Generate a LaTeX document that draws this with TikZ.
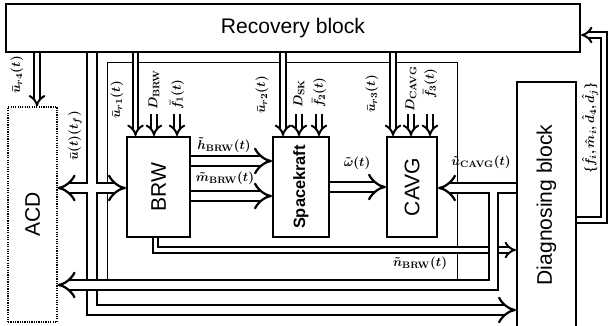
\documentclass[tikz,border=0pt]{standalone}
\usepackage{fontspec}
\setmainfont{Liberation Serif}
\setsansfont{Liberation Sans}
\usetikzlibrary{arrows.meta,calc}
\tikzstyle{block} = [draw, line width=1.8pt, inner sep=0pt, font=\sffamily\fontsize{18}{20}\selectfont]
\tikzstyle{bname} = [rotate=90, inner sep=0pt, font=\sffamily\fontsize{18}{20}\selectfont]
\tikzstyle{bus} = [double, line width=1.9pt, double distance=6pt, >={Implies[scale=1.2]}]
\tikzstyle{tap} = [double, line width=1.7pt, double distance=3pt, >={Implies[scale=1.4]}]
\tikzstyle{lbl} = [inner sep=0pt, font=\fontsize{11}{13}\selectfont\boldmath]
\tikzstyle{vlbl} = [lbl, rotate=90]

\begin{document}
\begin{tikzpicture}[x=0.03cm, y=-0.03cm]
    \useasboundingbox (0,0) rectangle (609,325);
    \draw[line width=0.6pt] (107,62) rectangle (457,280);

    % blocks
    \node[block, minimum width=17.22cm, minimum height=1.44cm] (rec) at (293,28) {Recovery block};
    \node[block, line width=1pt, densely dotted, minimum width=1.47cm, minimum height=6.45cm, label={[bname]center:ACD}] (acd) at (32.5,214.5) {};
    \node[block, minimum width=1.89cm, minimum height=3cm, label={[bname]center:BRW}] (brw) at (158.5,187) {};
    \node[block, minimum width=1.68cm, minimum height=3cm, label={[bname, font=\sffamily\bfseries\fontsize{14}{16}\selectfont]center:Spacekraft}] (sc) at (301,187) {};
    \node[block, minimum width=1.5cm, minimum height=3cm, label={[bname]center:CAVG}] (cavg) at (412,187) {};
    \node[block, minimum width=1.77cm, minimum height=7.4cm, label={[bname]center:Diagnosing block}] (diag) at (546.5,205) {};

    \coordinate (t4) at (37,0);
    \coordinate (t1) at (135.5,0);
    \coordinate (t2) at (283,0);
    \coordinate (t3) at (393,0);
    \coordinate (in) at (0,114);
    \coordinate (J) at (92,188);
    \coordinate (K) at (493.5,188);
    \coordinate (bot) at (0,310);
    \coordinate (fb) at (0,285);
    \coordinate (nb) at (0,250);
    \coordinate (dg) at (0,220);
    \coordinate (up) at (604,35);
    \coordinate (Jb) at ($(J)!.5!(brw.west |- J)$);

    % labels
    \node[vlbl] (lr4) at (17,75) {$\bar{u}_{r4}(t)$};
    \node[vlbl] (lu) at (75,136) {$\bar{u}(t)(t_f)$};
    \node[vlbl] (lr1) at (117,100) {$\bar{u}_{r1}(t)$};
    \node[vlbl, anchor=west] (dbrw) at (154,110) {$D_{\mathbf{BRW}}$};
    \node[vlbl, anchor=west] (lf1) at (177,110) {$\bar{f}_1(t)$};
    \node[vlbl] (lr2) at (262,95) {$\bar{u}_{r2}(t)$};
    \node[vlbl, anchor=west] (dsk) at (299,108) {$D_{\mathbf{SK}}$};
    \node[vlbl, anchor=west] (lf2) at (319,108) {$\bar{f}_2(t)$};
    \node[vlbl] (lr3) at (372,94) {$\bar{u}_{r3}(t)$};
    \node[vlbl, anchor=west] (dcavg) at (411,112) {$D_{\mathbf{CAVG}}$};
    \node[vlbl, anchor=west] (lf3) at (430,99) {$\bar{f}_3(t)$};
    \node[lbl] (lh) at (224,145) {$\tilde{h}_{\mathbf{BRW}}(t)$};
    \node[lbl] (lm) at (225,178) {$\tilde{m}_{\mathbf{BRW}}(t)$};
    \node[lbl] (lw) at (357,163) {$\tilde{\omega}(t)$};
    \node[lbl] (lc) at (481,162) {$\tilde{u}_{\mathbf{CAVG}}(t)$};
    \node[lbl] (ln) at (420,263) {$\tilde{n}_{\mathbf{BRW}}(t)$};
    \node[vlbl] (lfd) at (590,128) {$\{\hat{f}_i, \hat{m}_i, \hat{d}_4, \hat{d}_j\}$};

    % connectors
    \draw[tap,->] (rec.south -| t4) -- (acd.north -| t4);
    \draw[tap,->] (rec.south -| t1) -- (brw.north -| t1);
    \draw[tap,->] (rec.south -| t2) -- (sc.north -| t2);
    \draw[tap,->] (rec.south -| t3) -- (cavg.north -| t3);
    \draw[tap,->] (dbrw.west |- in) -- (dbrw.west |- brw.north);
    \draw[tap,->] (lf1.west |- in) -- (lf1.west |- brw.north);
    \draw[tap,->] (dsk.west |- in) -- (dsk.west |- sc.north);
    \draw[tap,->] (lf2.west |- in) -- (lf2.west |- sc.north);
    \draw[tap,->] (dcavg.west |- in) -- (dcavg.west |- cavg.north);
    \draw[tap,->] (lf3.west |- in) -- (lf3.west |- cavg.north);

    \draw[bus,->] ($(brw.east)+(0,-26)$) -- ($(sc.west)+(0,-26)$);
    \draw[bus,->] ($(brw.east)+(0,9)$) -- ($(sc.west)+(0,9)$);
    \draw[bus,->] (sc.east) -- (cavg.west);
    \draw[tap,->] ($(brw.south)+(-3,0)$) |- (diag.west |- nb);
    \draw[bus,<->] (rec.south -| J) -- (J) (J) -- (Jb) (acd.east |- J) -- (J) -- (J |- bot) -- (diag.west |- bot);
    \draw[bus,->] (Jb) -- (brw.west |- J);
    \draw[bus,<->] (diag.west |- K) -- (K) (cavg.east |- K) -- (K) -- (K |- fb) -- (acd.east |- fb);
    \draw[tap,->] (diag.east |- dg) -| (up) -- (rec.east |- up);
\end{tikzpicture}
\end{document}
